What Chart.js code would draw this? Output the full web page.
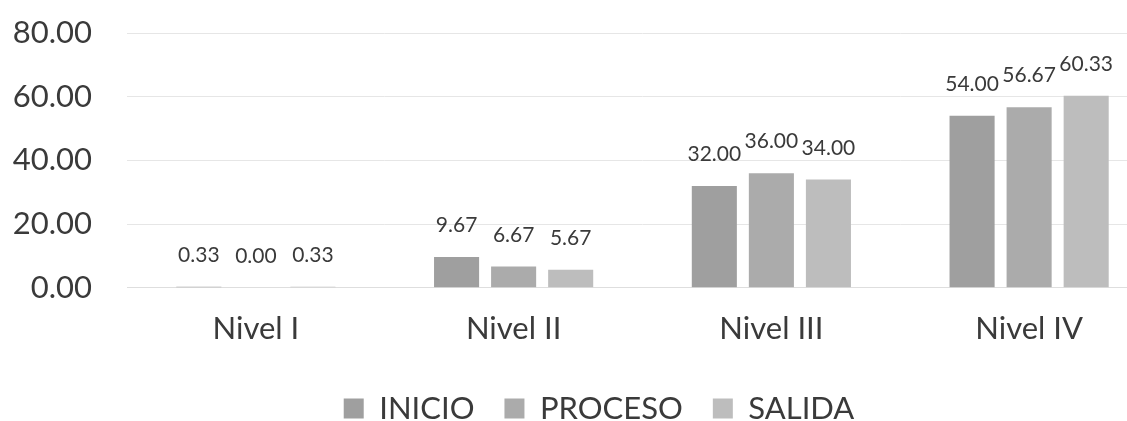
<!DOCTYPE html>
<html>
<head>
<meta charset="utf-8">
<script src="https://cdn.jsdelivr.net/npm/chart.js@4/dist/chart.umd.min.js"></script>
<style>
  html, body { margin: 0; padding: 0; background: #fff; overflow: hidden; }
  #view { width: 1127px; height: 421px; overflow: hidden; }
  #wrap { width: 1158px; height: 434px; }
</style>
</head>
<body>
<div id="view"><div id="wrap"><canvas id="chart"></canvas></div></div>
<script>
const categories = ['Nivel I', 'Nivel II', 'Nivel III', 'Nivel IV'];
const inicio = [0.33, 9.67, 32.00, 54.00];
const proceso = [0.00, 6.67, 36.00, 56.67];
const salida = [0.33, 5.67, 34.00, 60.33];
const yTicks = [0, 20, 40, 60, 80];

const fontFamily = 'Lato, "Open Sans", sans-serif';
const textColor = '#3a3a3a';

// draws the value above each bar
const barLabels = {
  id: 'barLabels',
  afterDatasetsDraw(chart) {
    const ctx = chart.ctx;
    ctx.save();
    ctx.font = '21px ' + fontFamily;
    ctx.fillStyle = textColor;
    ctx.textAlign = 'center';
    ctx.textBaseline = 'alphabetic';
    chart.data.datasets.forEach((ds, i) => {
      chart.getDatasetMeta(i).data.forEach((bar, j) => {
        ctx.fillText(ds.data[j].toFixed(2), bar.x, bar.y - 25);
      });
    });
    ctx.restore();
  }
};

// nudge the legend a little to the right, like the original
const legendShift = {
  id: 'legendShift',
  afterLayout(chart) {
    chart.legend.left += 20;
    chart.legend.right += 20;
  }
};

new Chart(document.getElementById('chart').getContext('2d'), {
  type: 'bar',
  data: {
    labels: categories,
    datasets: [
      { label: 'INICIO', data: inicio, backgroundColor: '#9f9f9f' },
      { label: 'PROCESO', data: proceso, backgroundColor: '#ababab' },
      { label: 'SALIDA', data: salida, backgroundColor: '#bdbdbd' }
    ]
  },
  options: {
    responsive: true,
    maintainAspectRatio: false,
    animation: false,
    categoryPercentage: 0.664,
    barPercentage: 0.79,
    layout: { padding: { top: 33, right: 0, left: 0, bottom: 0 } },
    scales: {
      y: {
        min: 0,
        max: 80,
        afterBuildTicks(axis) { axis.ticks = yTicks.map(v => ({ value: v })); },
        afterFit(axis) { axis.width = 127; },
        border: { display: false },
        grid: { color: '#e6e6e6', tickLength: 33, tickColor: 'rgba(0,0,0,0)' },
        ticks: {
          padding: 2,
          color: textColor,
          font: { size: 31, family: fontFamily },
          callback: v => Number(v).toFixed(2)
        }
      },
      x: {
        border: { color: '#dedede' },
        grid: { display: false },
        ticks: {
          padding: 15,
          color: textColor,
          font: { size: 31, family: fontFamily }
        }
      }
    },
    plugins: {
      legend: {
        position: 'bottom',
        labels: {
          boxWidth: 20,
          boxHeight: 20,
          padding: 30,
          color: textColor,
          font: { size: 31, family: fontFamily }
        }
      },
      tooltip: { enabled: false }
    }
  },
  plugins: [barLabels, legendShift]
});
</script>
</body>
</html>
